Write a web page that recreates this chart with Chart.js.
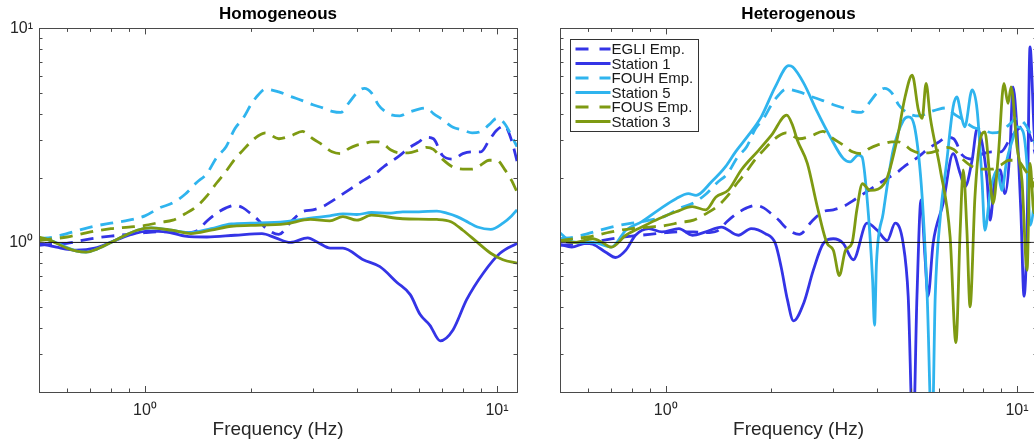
<!DOCTYPE html>
<html>
<head>
<meta charset="utf-8">
<script src="https://cdn.jsdelivr.net/npm/chart.js@4.4.1/dist/chart.umd.min.js"></script>
<style>
  html, body { margin: 0; padding: 0; background: #fff; overflow: hidden; }
  body { width: 1034px; height: 445px; position: relative; }
  .panel { position: absolute; top: 0; width: 530px; height: 445px; }
  #left { left: 0; }
  #right { left: 520px; }
</style>
</head>
<body>
<div class="panel" id="left"><canvas id="homChart"></canvas></div>
<div class="panel" id="right"><canvas id="hetChart"></canvas></div>
<script>
// empirical curves (same in both panels)
const empFreq = [0.5, 0.55, 0.6, 0.7, 0.8, 0.9, 1.0, 1.1, 1.2, 1.3, 1.4, 1.5, 1.6, 1.7, 1.8, 1.9, 2.0, 2.1, 2.2, 2.4, 2.6, 2.8, 3.0, 3.2, 3.4, 3.6, 3.8, 4.0, 4.2, 4.4, 4.6, 4.8, 5.0, 5.3, 5.6, 6.0, 6.3, 6.6, 7.0, 7.5, 8.0, 8.5, 9.0, 9.5, 10.0, 10.5, 11.0, 11.4];
const egliEmp = [0.97, 0.98, 0.99, 1.04, 1.07, 1.09, 1.11, 1.12, 1.12, 1.11, 1.13, 1.26, 1.37, 1.45, 1.49, 1.45, 1.36, 1.27, 1.17, 1.09, 1.25, 1.39, 1.42, 1.47, 1.56, 1.66, 1.76, 1.86, 1.96, 2.05, 2.15, 2.28, 2.38, 2.55, 2.75, 2.95, 3.1, 3.05, 2.55, 2.45, 2.6, 2.65, 2.65, 3.0, 3.35, 3.5, 3.0, 2.4];
const fouhEmp = [1.04, 1.06, 1.10, 1.18, 1.23, 1.27, 1.33, 1.45, 1.53, 1.68, 1.9, 2.1, 2.5, 2.8, 3.4, 3.8, 4.4, 4.9, 5.2, 5.05, 4.8, 4.6, 4.4, 4.25, 4.1, 4.05, 4.5, 5.0, 5.25, 5.0, 4.4, 4.1, 3.95, 3.9, 4.05, 4.2, 4.25, 4.0, 3.75, 3.45, 3.35, 3.25, 3.3, 3.55, 3.8, 3.6, 3.15, 2.8];
const fousEmp = [1.02, 1.04, 1.06, 1.12, 1.16, 1.18, 1.20, 1.24, 1.27, 1.36, 1.47, 1.65, 1.9, 2.15, 2.45, 2.7, 2.95, 3.15, 3.25, 3.05, 3.15, 3.3, 3.05, 2.85, 2.65, 2.6, 2.75, 2.85, 2.9, 2.95, 2.95, 2.85, 2.7, 2.62, 2.62, 2.7, 2.78, 2.72, 2.45, 2.25, 2.2, 2.2, 2.3, 2.42, 2.42, 2.2, 1.95, 1.72];

// homogeneous model
const homSt1Freq = [0.5, 0.56, 0.64, 0.72, 0.82, 0.93, 1.02, 1.15, 1.3, 1.5, 1.8, 2.15, 2.35, 2.59, 2.9, 3.1, 3.36, 3.65, 4.17, 4.65, 5.2, 5.67, 6.05, 6.45, 6.9, 7.5, 8.2, 9.15, 10.2, 11.4];
const homSt1 = [0.99, 0.95, 0.92, 0.94, 1.02, 1.10, 1.13, 1.12, 1.07, 1.06, 1.08, 1.10, 1.05, 1.0, 1.05, 1.0, 0.94, 0.94, 0.83, 0.77, 0.65, 0.57, 0.46, 0.41, 0.347, 0.39, 0.54, 0.72, 0.89, 0.99];
const homSt5Freq = [0.5, 0.54, 0.64, 0.68, 0.73, 0.84, 0.95, 1.04, 1.19, 1.35, 1.54, 1.76, 2.0, 2.5, 2.95, 3.35, 3.65, 4.0, 4.4, 5.0, 5.4, 6.0, 6.75, 7.2, 7.7, 8.3, 8.8, 9.6, 10.4, 11.0, 11.4];
const homSt5 = [1.05, 1.02, 0.91, 0.90, 0.93, 1.04, 1.14, 1.17, 1.14, 1.11, 1.16, 1.22, 1.23, 1.25, 1.30, 1.33, 1.36, 1.35, 1.38, 1.37, 1.39, 1.39, 1.40, 1.37, 1.32, 1.24, 1.18, 1.15, 1.23, 1.33, 1.42];
const homSt3Freq = [0.5, 0.54, 0.6, 0.64, 0.68, 0.73, 0.84, 0.95, 1.04, 1.19, 1.35, 1.54, 1.76, 2.0, 2.5, 2.95, 3.35, 3.65, 4.0, 4.4, 5.4, 6.75, 7.4, 8.0, 8.8, 9.6, 10.4, 11.4];
const homSt3 = [1.06, 1.02, 0.94, 0.91, 0.90, 0.93, 1.04, 1.14, 1.17, 1.14, 1.10, 1.14, 1.19, 1.20, 1.22, 1.28, 1.26, 1.32, 1.27, 1.34, 1.29, 1.28, 1.25, 1.14, 1.0, 0.89, 0.83, 0.80];

// heterogenous model
const hetSt1Freq = [0.5, 0.54, 0.59, 0.62, 0.675, 0.72, 0.77, 0.82, 0.895, 0.975, 1.09, 1.19, 1.30, 1.44, 1.61, 1.75, 1.92, 2.05, 2.13, 2.22, 2.31, 2.47, 2.63, 2.81, 3.0, 3.2, 3.42, 3.74, 4.0, 4.27, 4.5, 4.74, 4.9, 5.06, 5.19, 5.33, 5.47, 5.58, 5.77, 6.16, 6.58, 6.89, 7.11, 7.45, 7.7, 7.96, 8.22, 8.38, 8.66, 8.95, 9.24, 9.55, 9.74, 10.0, 10.26, 10.47, 10.68, 10.89, 11.18, 11.4];
const hetSt1 = [0.98, 0.95, 0.99, 0.98, 0.90, 0.85, 0.92, 1.08, 1.16, 1.12, 1.16, 1.08, 1.12, 1.18, 1.08, 1.16, 1.10, 0.99, 0.77, 0.54, 0.43, 0.52, 0.74, 0.99, 1.04, 0.99, 0.83, 1.23, 1.14, 1.02, 1.23, 0.99, 0.56, 0.12, 0.56, 1.58, 0.86, 0.56, 0.99, 1.52, 2.6, 2.1, 1.82, 2.42, 3.4, 2.9, 1.95, 1.27, 2.02, 2.18, 1.69, 2.7, 5.33, 3.35, 1.37, 0.56, 1.14, 8.2, 3.35, 2.0];
const hetSt5Freq = [0.5, 0.53, 0.56, 0.62, 0.7, 0.77, 0.855, 0.955, 1.07, 1.16, 1.22, 1.35, 1.48, 1.58, 1.72, 1.87, 2.05, 2.24, 2.3, 2.47, 2.7, 2.94, 3.2, 3.35, 3.53, 3.62, 3.74, 3.88, 3.93, 3.98, 4.16, 4.44, 4.75, 4.9, 5.13, 5.37, 5.55, 5.73, 5.85, 6.05, 6.3, 6.58, 6.74, 6.95, 7.1, 7.45, 7.7, 7.95, 8.1, 8.4, 8.8, 9.05, 9.35, 9.7, 10.0, 10.4, 10.7, 10.9, 11.4];
const hetSt5 = [1.11, 1.02, 1.0, 1.0, 0.95, 1.14, 1.25, 1.42, 1.60, 1.69, 1.66, 1.92, 2.26, 2.65, 3.17, 3.86, 5.33, 6.7, 6.6, 5.55, 4.07, 3.11, 2.47, 2.38, 2.56, 2.51, 1.63, 0.67, 0.41, 0.8, 1.37, 2.7, 3.72, 3.86, 3.35, 1.63, 0.56, 0.12, 0.56, 1.32, 2.34, 4.3, 4.78, 3.86, 3.47, 5.16, 4.15, 1.95, 1.14, 1.75, 2.18, 1.75, 2.42, 3.0, 3.47, 3.3, 2.2, 1.2, 2.0];
const hetSt3Freq = [0.5, 0.55, 0.62, 0.66, 0.70, 0.77, 0.855, 0.955, 1.07, 1.19, 1.30, 1.39, 1.51, 1.64, 1.84, 2.0, 2.21, 2.3, 2.37, 2.53, 2.7, 2.88, 3.0, 3.12, 3.25, 3.39, 3.5, 3.63, 3.82, 4.22, 4.55, 4.8, 5.03, 5.24, 5.37, 5.51, 5.66, 6.05, 6.45, 6.7, 6.89, 7.03, 7.2, 7.35, 7.59, 7.85, 8.1, 8.38, 8.55, 8.84, 9.18, 9.43, 9.62, 10.0, 10.33, 10.68, 10.89, 11.18, 11.4];
const hetSt3 = [1.02, 1.0, 1.04, 1.0, 0.95, 1.08, 1.18, 1.29, 1.39, 1.47, 1.42, 1.63, 1.76, 2.18, 2.7, 3.17, 3.93, 3.5, 3.0, 2.34, 1.47, 0.99, 0.92, 0.70, 0.92, 0.99, 1.42, 1.88, 1.75, 1.92, 3.0, 4.78, 6.04, 4.15, 3.8, 5.53, 3.86, 2.18, 1.06, 0.34, 1.14, 2.18, 1.14, 0.50, 1.63, 3.0, 3.28, 1.95, 1.52, 2.51, 5.53, 4.46, 5.33, 2.8, 1.95, 0.74, 2.34, 1.37, 1.5];

// reference line at amplification 1
const unityFreq = [0.5, 11.4];
const unityVal = [1, 1];

// axes
const xTickValues = [0.6, 0.7, 0.8, 0.9, 1, 2, 3, 4, 5, 6, 7, 8, 9, 10];
const yTickValues = [0.3, 0.4, 0.5, 0.6, 0.7, 0.8, 0.9, 1, 2, 3, 4, 5, 6, 7, 8, 9, 10];
const decadeLabels = { 1: '10⁰', 10: '10¹' };

const blue = '#3434e6';
const cyan = '#2fb4ee';
const olive = '#7e9a12';
const fontFamily = '"Liberation Sans", Arial, Helvetica, sans-serif';
const dash = [13, 8];

function points(freqs, vals) {
  return freqs.map((f, i) => ({ x: f, y: vals[i] }));
}

function isDecade(v) {
  const l = Math.log10(v);
  return Math.abs(l - Math.round(l)) < 1e-9;
}

// matlab style box with inward ticks on all four sides
const axisBox = {
  id: 'axisBox',
  afterDatasetsDraw(chart) {
    const { ctx, chartArea: a, scales: { x, y } } = chart;
    ctx.save();
    ctx.strokeStyle = '#4a4a4a';
    ctx.lineWidth = 1;
    ctx.beginPath();
    x.ticks.forEach(t => {
      const px = Math.round(x.getPixelForValue(t.value)) + 0.5;
      const len = isDecade(t.value) ? 6 : 3.5;
      ctx.moveTo(px, a.bottom); ctx.lineTo(px, a.bottom - len);
      ctx.moveTo(px, a.top); ctx.lineTo(px, a.top + len);
    });
    y.ticks.forEach(t => {
      const py = Math.round(y.getPixelForValue(t.value)) + 0.5;
      const len = isDecade(t.value) ? 6 : 3.5;
      ctx.moveTo(a.left, py); ctx.lineTo(a.left + len, py);
      ctx.moveTo(a.right, py); ctx.lineTo(a.right - len, py);
    });
    ctx.stroke();
    ctx.strokeRect(Math.round(a.left) + 0.5, Math.round(a.top) + 0.5, Math.round(a.width), Math.round(a.height));
    ctx.restore();
  }
};

// legend box inside the top left corner of the plot
const innerLegend = {
  id: 'innerLegend',
  afterDraw(chart) {
    const { ctx, chartArea: a } = chart;
    const items = chart.data.datasets.filter(d => d.label);
    const bx = Math.round(a.left) + 10.5, by = Math.round(a.top) + 11.5;
    const bw = 128, bh = 92, row = 14.5;
    ctx.save();
    ctx.fillStyle = '#fff';
    ctx.fillRect(bx, by, bw, bh);
    ctx.strokeStyle = '#333';
    ctx.lineWidth = 1;
    ctx.strokeRect(bx, by, bw, bh);
    ctx.font = '15px ' + fontFamily;
    ctx.textBaseline = 'middle';
    items.forEach((d, i) => {
      const cy = by + 9.5 + i * row;
      ctx.strokeStyle = d.borderColor;
      ctx.lineWidth = d.borderWidth;
      ctx.setLineDash(d.borderDash ? [13, 11] : []);
      ctx.beginPath();
      ctx.moveTo(bx + 5, cy);
      ctx.lineTo(bx + 40, cy);
      ctx.stroke();
      ctx.setLineDash([]);
      ctx.fillStyle = '#1a1a1a';
      ctx.fillText(d.label, bx + 41, cy + 1);
    });
    ctx.restore();
  }
};

function makeDatasets(st1F, st1, st5F, st5, st3F, st3) {
  const base = { pointRadius: 0, borderWidth: 2.8, fill: false, cubicInterpolationMode: 'monotone' };
  return [
    { ...base, label: 'EGLI Emp.', data: points(empFreq, egliEmp), borderColor: blue, borderDash: dash, order: 6 },
    { ...base, label: 'Station 1', data: points(st1F, st1), borderColor: blue, order: 5 },
    { ...base, label: 'FOUH Emp.', data: points(empFreq, fouhEmp), borderColor: cyan, borderDash: dash, order: 4 },
    { ...base, label: 'Station 5', data: points(st5F, st5), borderColor: cyan, order: 3 },
    { ...base, label: 'FOUS Emp.', data: points(empFreq, fousEmp), borderColor: olive, borderDash: dash, order: 2 },
    { ...base, label: 'Station 3', data: points(st3F, st3), borderColor: olive, order: 1 },
    { label: '', data: points(unityFreq, unityVal), borderColor: '#111', borderWidth: 1, pointRadius: 0, order: 0 }
  ];
}

function makeOptions(titleText, showYLabels) {
  return {
    responsive: true,
    maintainAspectRatio: false,
    animation: false,
    layout: { padding: { left: 0, right: 13, top: 0, bottom: 0 } },
    plugins: {
      legend: { display: false },
      tooltip: { enabled: false },
      title: {
        display: true,
        text: titleText,
        fullSize: false,
        color: '#000',
        font: { family: fontFamily, size: 17, weight: 'bold' },
        padding: { top: 4, bottom: 4 }
      }
    },
    scales: {
      x: {
        type: 'logarithmic',
        min: 0.5,
        max: 11.4,
        afterBuildTicks: s => { s.ticks = xTickValues.map(v => ({ value: v })); },
        afterFit: s => { s.height = 53; },
        grid: { display: false, drawTicks: false },
        border: { display: false },
        ticks: {
          autoSkip: false,
          maxRotation: 0,
          padding: 9,
          color: '#262626',
          font: { family: fontFamily, size: 16 },
          callback: v => decadeLabels[v] || ''
        },
        title: {
          display: true,
          text: 'Frequency (Hz)',
          color: '#262626',
          font: { family: fontFamily, size: 19 },
          padding: { top: 0, bottom: 4 }
        }
      },
      y: {
        type: 'logarithmic',
        min: 0.2,
        max: 10,
        afterBuildTicks: s => { s.ticks = yTickValues.map(v => ({ value: v })); },
        afterFit: s => { s.width = showYLabels ? 39 : 40; },
        grid: { display: false, drawTicks: false },
        border: { display: false },
        ticks: {
          autoSkip: false,
          padding: 6,
          color: '#262626',
          font: { family: fontFamily, size: 16 },
          callback: v => (showYLabels ? decadeLabels[v] || '' : '')
        }
      }
    }
  };
}

new Chart(document.getElementById('homChart'), {
  type: 'line',
  data: { datasets: makeDatasets(homSt1Freq, homSt1, homSt5Freq, homSt5, homSt3Freq, homSt3) },
  options: makeOptions('Homogeneous', true),
  plugins: [axisBox]
});

new Chart(document.getElementById('hetChart'), {
  type: 'line',
  data: { datasets: makeDatasets(hetSt1Freq, hetSt1, hetSt5Freq, hetSt5, hetSt3Freq, hetSt3) },
  options: makeOptions('Heterogenous', false),
  plugins: [axisBox, innerLegend]
});
</script>
</body>
</html>
